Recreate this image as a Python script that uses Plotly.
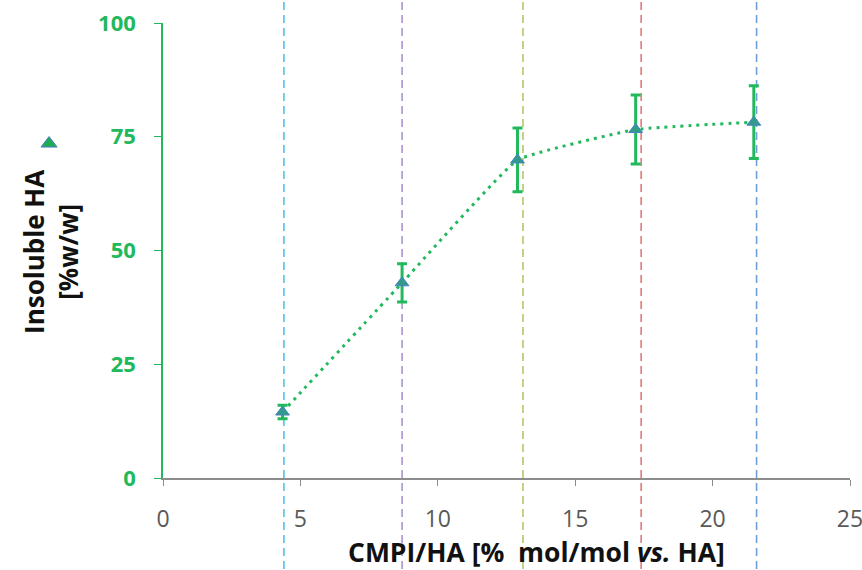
import plotly.graph_objects as go

# Data
cmpi_ratio = [4.35, 8.7, 12.9, 17.2, 21.5]
insoluble_ha = [14.5, 42.9, 69.9, 76.6, 78.2]
error = [1.5, 4.2, 7.0, 7.6, 8.0]
ref_lines_x = [4.4, 8.7, 13.1, 17.4, 21.6]
ref_lines_colors = ["#4fc1ec", "#a995cf", "#b2c86a", "#e07a7a", "#6f9fd8"]
x_ticks = [0, 5, 10, 15, 20, 25]
y_ticks = [0, 25, 50, 75, 100]

GREEN = "#21b95c"
FONT = "Open Sans"

fig = go.Figure()

for xv, col in zip(ref_lines_x, ref_lines_colors):
    fig.add_shape(type="line", xref="x", yref="paper", x0=xv, x1=xv, y0=-0.2, y1=1.06,
                  line=dict(color=col, width=1.6, dash="8px,5px"), layer="below")

fig.add_trace(go.Scatter(
    x=cmpi_ratio, y=insoluble_ha, mode="lines+markers", showlegend=False,
    line=dict(color=GREEN, width=3, dash="3px,5px", shape="spline", smoothing=0.3),
    marker=dict(symbol="triangle-up", size=12, color="#2f9b88",
                line=dict(color="#4d7fc6", width=1)),
    error_y=dict(type="data", array=error, visible=True, color=GREEN, thickness=3, width=5),
))

fig.add_trace(go.Scatter(
    x=[None], y=[None], mode="markers", name="", showlegend=True,
    marker=dict(symbol="triangle-up", size=14, color="#1faa55",
                line=dict(color="#4d7fc6", width=1)),
))

fig.update_layout(
    width=862, height=570,
    margin=dict(l=163, r=12, t=23, b=92),
    paper_bgcolor="white", plot_bgcolor="white",
    font=dict(family=FONT),
    legend=dict(x=-0.195, y=0.735, xanchor="left", yanchor="middle",
                bgcolor="rgba(0,0,0,0)", itemwidth=30, font=dict(size=2)),
    xaxis=dict(range=[0, 25], tickvals=x_ticks, showgrid=False, zeroline=False,
               showline=True, linecolor="#8c8c8c", linewidth=1.5, automargin=False,
               ticks="outside", ticklen=6, tickcolor="#8c8c8c", ticklabelstandoff=14,
               ticklabeloverflow="allow",
               tickfont=dict(size=23, color="#595959", family=FONT)),
    yaxis=dict(range=[0, 100], tickvals=y_ticks, showgrid=False, zeroline=False,
               showline=True, linecolor=GREEN, linewidth=1.5, automargin=False,
               ticks="outside", ticklen=7, tickcolor=GREEN, ticklabelstandoff=14,
               tickfont=dict(size=22, color=GREEN, family=FONT, weight="bold")),
    annotations=[
        dict(text="<b>Insoluble HA<br>[%w/w]</b>", xref="paper", yref="paper",
             x=-0.163, y=0.497, xanchor="center", yanchor="middle", textangle=-90,
             showarrow=False, font=dict(size=26, color="#111111", family=FONT)),
        dict(text="<b>CMPI/HA [%  mol/mol <i>vs.</i> HA]</b>", xref="paper", yref="paper",
             x=0.543, y=-0.163, xanchor="center", yanchor="middle",
             showarrow=False, font=dict(size=26.5, color="#111111", family=FONT)),
    ],
)

fig.write_html("out.html")
